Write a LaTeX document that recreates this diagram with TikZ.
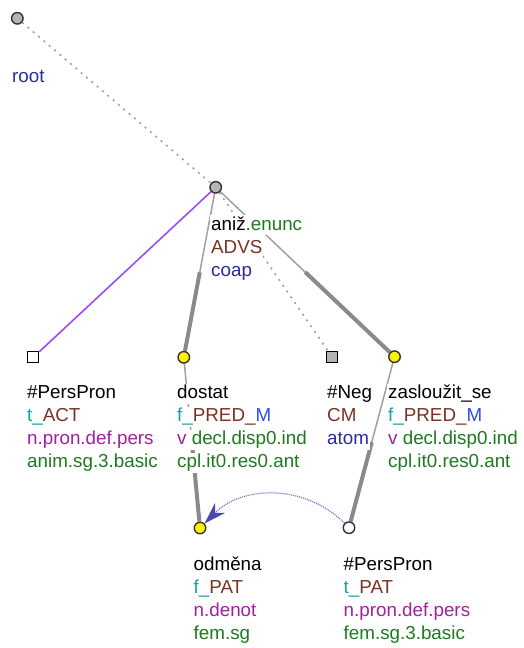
\documentclass[tikz,border=0pt]{standalone}
\usepackage{fontspec}
\setmainfont{Liberation Sans}
\usepackage{xcolor}
\definecolor{tgreen}{HTML}{1E7A1E}
\definecolor{tbrown}{HTML}{7A3322}
\definecolor{tteal}{HTML}{1AA0A0}
\definecolor{tpurple}{HTML}{A020A0}
\definecolor{tnavy}{HTML}{2B2BA0}
\definecolor{tblue}{HTML}{2F4FE8}
\definecolor{lilac}{HTML}{9A4DF0}
\definecolor{edgegray}{HTML}{A0A0A0}
\definecolor{thickgray}{HTML}{8A8A8A}
\definecolor{nodegray}{HTML}{B4B4B4}
\definecolor{corefblue}{HTML}{6A6AC8}
\definecolor{tipblue}{HTML}{4848B0}
\usepackage{tikz}
\usetikzlibrary{arrows.meta,calc,backgrounds}
\tikzset{
  tnode/.style   ={circle,draw=black!80,line width=1.4pt,fill=nodegray,
                   minimum size=11.5pt,inner sep=0pt},
  predn/.style   ={tnode,fill=yellow},
  plainn/.style  ={tnode,fill=white},
  sqnode/.style  ={rectangle,draw=black,line width=1.2pt,fill=white,
                   minimum size=11pt,inner sep=0pt},
  negnode/.style ={sqnode,fill=nodegray},
  lbl/.style     ={anchor=west,fill=white,inner sep=1pt,
                   font=\fontsize{18.8}{23}\selectfont,
                   text height=14pt,text depth=4pt},
  thinedge/.style={draw=edgegray,line width=1.5pt},
  thickedge/.style={draw=thickgray,line width=4pt},
  hidden/.style  ={draw=edgegray,line width=1.6pt,dash pattern=on 2pt off 5pt},
  member/.style  ={draw=lilac,line width=1.6pt},
  coref/.style   ={-{Stealth[length=22pt,width=14pt,inset=7pt,
                   color=tipblue,fill=tipblue,line width=0.5pt]},
                   draw=corefblue,line width=1.2pt,dash pattern=on 1pt off 1pt},
}
\newcommand{\fun}[2]{\textcolor{tteal}{#1\_}\textcolor{tbrown}{#2}}

\begin{document}
\begin{tikzpicture}[x=1pt,y=1pt]
\useasboundingbox (0,0) rectangle (523,-648);
%======================= TREE NODES =============================
\node[tnode]   (root)   at (17.3,-18.3)  {};
\node[tnode]   (aniz)   at (215.7,-187.3) {};
\node[sqnode]  (act)    at (33.3,-357.3) {};
\node[predn]   (dostat) at (183.8,-357.3) {};
\node[negnode] (neg)    at (332.3,-357.3) {};
\node[predn]   (zasl)   at (394.5,-356.7) {};
\node[predn]   (odmena) at (200,-528)    {};
\node[plainn]  (pat)    at (349,-527.7)  {};
%======================= LABELS =================================
\node[lbl,text=tnavy] (root1) at (11,-77.5) {root};
\node[lbl] (aniz1) at (210,-225) {aniž\textcolor{tgreen}{.enunc}};
\node[lbl,text=tbrown] (aniz2) at (210,-248) {ADVS};
\node[lbl,text=tnavy]  (aniz3) at (210,-271) {coap};
% first level
\node[lbl] (act1) at (26,-393.5) {\#PersPron};
\node[lbl] (act2) at (26,-416.5) {\fun{t}{ACT}};
\node[lbl,text=tpurple] (act3) at (26,-439.5) {n.pron.def.pers};
\node[lbl,text=tgreen]  (act4) at (26,-462.5) {anim.sg.3.basic};
\node[lbl] (dostat1) at (176,-393.5) {dostat};
\node[lbl] (dostat2) at (176,-416.5) {\fun{f}{PRED\_}\textcolor{tblue}{M}};
\node[lbl] (dostat3) at (176,-439.5) {\textcolor{tpurple}{v} \textcolor{tgreen}{decl.disp0.ind}};
\node[lbl,text=tgreen] (dostat4) at (176,-462.5) {cpl.it0.res0.ant};
\node[lbl] (neg1) at (326,-393.5) {\#Neg};
\node[lbl,text=tbrown] (neg2) at (326,-416.5) {CM};
\node[lbl,text=tnavy]  (neg3) at (326,-439.5) {atom};
\node[lbl] (zasl1) at (387,-393.5) {zasloužit\_se};
\node[lbl] (zasl2) at (387,-416.5) {\fun{f}{PRED\_}\textcolor{tblue}{M}};
\node[lbl] (zasl3) at (387,-439.5) {\textcolor{tpurple}{v} \textcolor{tgreen}{decl.disp0.ind}};
\node[lbl,text=tgreen] (zasl4) at (387,-462.5) {cpl.it0.res0.ant};
% second level
\node[lbl] (odmena1) at (192.5,-565.5) {odměna};
\node[lbl] (odmena2) at (192.5,-588.5) {\fun{f}{PAT}};
\node[lbl,text=tpurple] (odmena3) at (192.5,-611.5) {n.denot};
\node[lbl,text=tgreen]  (odmena4) at (192.5,-634.5) {fem.sg};
\node[lbl] (pat1) at (342.5,-565.5) {\#PersPron};
\node[lbl] (pat2) at (342.5,-588.5) {\fun{t}{PAT}};
\node[lbl,text=tpurple] (pat3) at (342.5,-611.5) {n.pron.def.pers};
\node[lbl,text=tgreen]  (pat4) at (342.5,-634.5) {fem.sg.3.basic};
%======================= EDGES ==================================
\begin{scope}[on background layer]
\draw[hidden] (root) -- (aniz);
\draw[member] (aniz) -- (act);
\draw[hidden] (aniz) -- (neg);
\foreach \a/\b in {aniz/dostat,aniz/zasl,dostat/odmena,zasl/pat}{
  \draw[thinedge] (\a) -- ($(\a)!.5!(\b)$);
  \draw[thickedge] ($(\a)!.5!(\b)$) -- (\b);
}
\end{scope}
\draw[coref] (pat) to[out=135,in=45] (odmena);
\end{tikzpicture}
\end{document}
